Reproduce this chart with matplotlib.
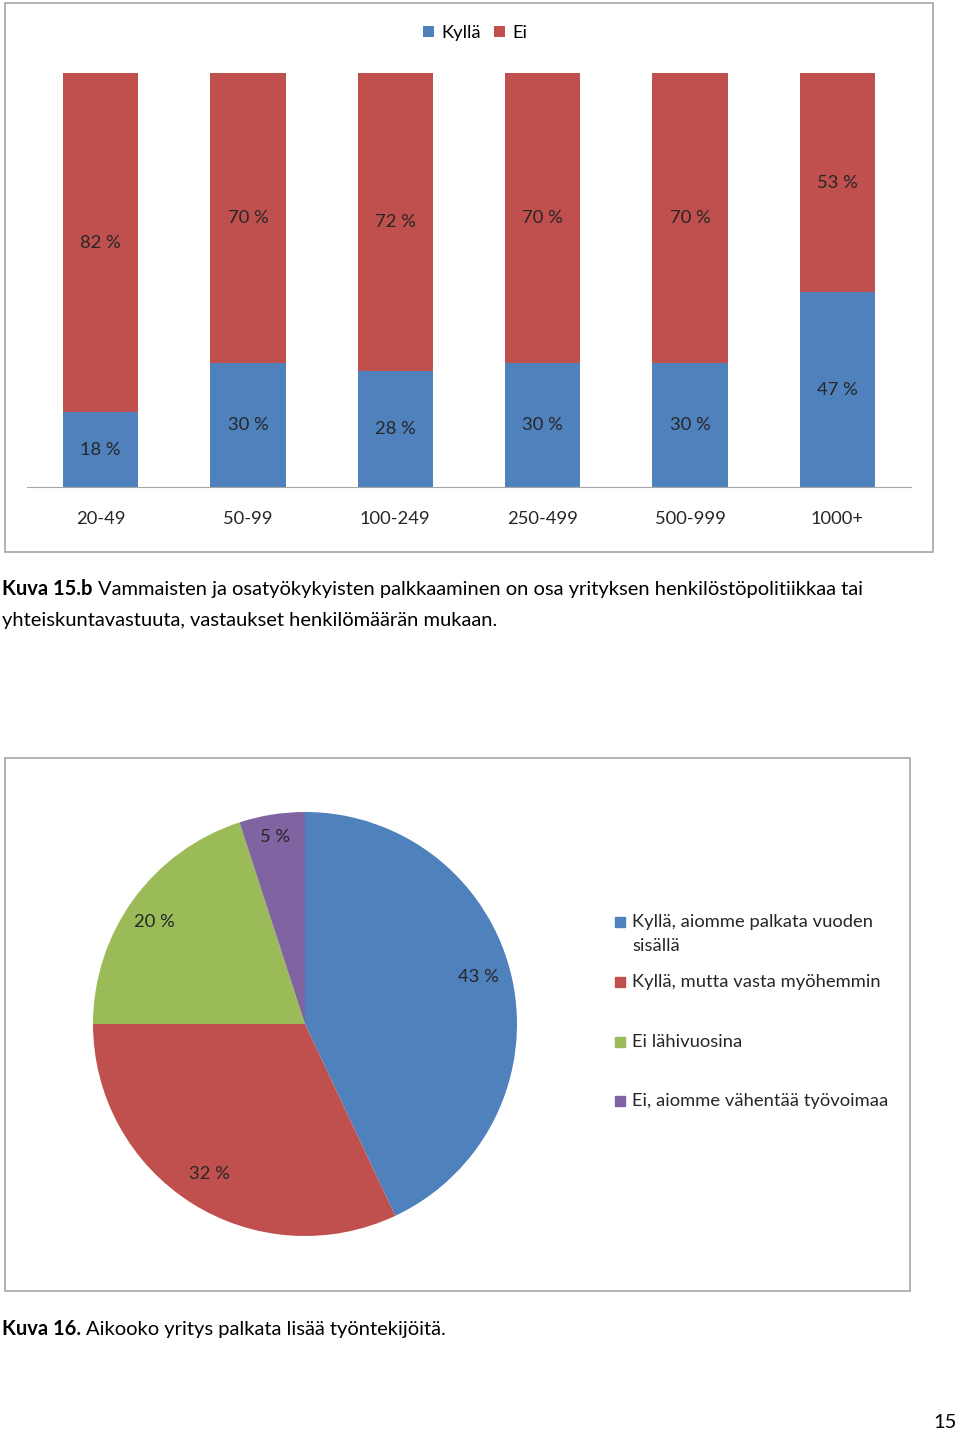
import matplotlib
matplotlib.use("Agg")
import matplotlib.pyplot as plt
from matplotlib.patches import Rectangle

plt.rcParams['font.family'] = ['Lato', 'DejaVu Sans']

# data
groups = ['20-49', '50-99', '100-249', '250-499', '500-999', '1000+']
kylla = [18, 30, 28, 30, 30, 47]
ei = [82, 70, 72, 70, 70, 53]

pie_labels = ['Kyllä, aiomme palkata vuoden\nsisällä', 'Kyllä, mutta vasta myöhemmin',
              'Ei lähivuosina', 'Ei, aiomme vähentää työvoimaa']
pie_values = [43, 32, 20, 5]

blue, red, green, purple = '#4F81BD', '#C0504D', '#9BBB59', '#8064A2'
txt = '#262626'
W, H = 960, 1432
FS = 13.2
CFS = 14.5


def fx(x):
    return x / W


def fy(y):
    return 1 - y / H


def box(x0, y0, x1, y1):
    # axes rectangle from pixel coords (top-left origin)
    return [fx(x0), fy(y1), fx(x1) - fx(x0), fy(y0) - fy(y1)]


fig = plt.figure(figsize=(W / 100, H / 100), dpi=100)
fig.patch.set_facecolor('white')

# chart frames
for (x0, y0, x1, y1) in [(5, 3, 933, 552), (5, 758, 910, 1291)]:
    fig.patches.append(Rectangle((fx(x0), fy(y1)), fx(x1) - fx(x0), fy(y0) - fy(y1),
                                 transform=fig.transFigure, fill=False,
                                 edgecolor='#A6A6A6', linewidth=1.2))

# --- stacked bar chart ---
ax = fig.add_axes(box(27, 73, 911, 487))
x = range(len(groups))
ax.bar(x, kylla, width=0.51, color=blue, label='Kyllä')
ax.bar(x, ei, width=0.51, bottom=kylla, color=red, label='Ei')
for i in x:
    ax.text(i, kylla[i] / 2, f'{kylla[i]} %', ha='center', va='center', fontsize=FS, color=txt)
    ax.text(i, kylla[i] + ei[i] / 2, f'{ei[i]} %', ha='center', va='center', fontsize=FS, color=txt)
ax.set_xlim(-0.5, 5.5)
ax.set_ylim(0, 100)
ax.set_yticks([])
ax.set_xticks(list(x))
ax.set_xticklabels(groups, fontsize=FS, color=txt)
ax.tick_params(axis='x', length=0, pad=17)
for s in ['top', 'left', 'right']:
    ax.spines[s].set_visible(False)
ax.spines['bottom'].set_color('#A6A6A6')
ax.legend(loc='center', bbox_to_anchor=(fx(475), fy(33)), bbox_transform=fig.transFigure,
          ncol=2, frameon=False, fontsize=FS, handlelength=0.6, handleheight=0.6,
          handletextpad=0.4, columnspacing=0.7)

# caption with bold lead
def caption(x, y, bold, rest):
    t = fig.text(fx(x), fy(y), bold, fontsize=CFS, fontweight='bold', va='center', color='black')
    fig.canvas.draw()
    bb = t.get_window_extent(fig.canvas.get_renderer())
    fig.text(fx(bb.x1 + 5), fy(y), rest, fontsize=CFS, va='center', color='black')

caption(2, 589, 'Kuva 15.b', 'Vammaisten ja osatyökykyisten palkkaaminen on osa yrityksen henkilöstöpolitiikkaa tai')
fig.text(fx(2), fy(620), 'yhteiskuntavastuuta, vastaukset henkilömäärän mukaan.', fontsize=CFS, va='center')

# --- pie chart ---
pax = fig.add_axes(box(93, 812, 517, 1236))
wedges, _, autotexts = pax.pie(pie_values, colors=[blue, red, green, purple], startangle=90,
                               counterclock=False, autopct=lambda p: f'{p:.0f} %',
                               pctdistance=0.84, textprops={'fontsize': FS, 'color': txt})
autotexts[0].set_position((0.82, 0.22))
autotexts[3].set_position((-0.14, 0.88))
autotexts[2].set_position((-0.71, 0.48))
pax.set_xlim(-1, 1)
pax.set_ylim(-1, 1)
pax.set_aspect('equal')

# legend of pie
lax = fig.add_axes([0, 0, 1, 1], facecolor='none')
lax.set_xlim(0, W)
lax.set_ylim(H, 0)
lax.axis('off')
ys = [922, 982, 1042, 1101]
for w, lab, yy in zip(wedges, pie_labels, ys):
    lax.add_patch(Rectangle((615, yy - 5), 10, 10, color=w.get_facecolor()))
    for k, line in enumerate(lab.split('\n')):
        lax.text(632, yy + 24 * k, line, fontsize=FS, va='center', ha='left', color=txt)

caption(2, 1329, 'Kuva 16.', 'Aikooko yritys palkata lisää työntekijöitä.')
fig.text(fx(957), fy(1422), '15', fontsize=CFS, ha='right', va='center')

fig.savefig('out.png', dpi=100)
